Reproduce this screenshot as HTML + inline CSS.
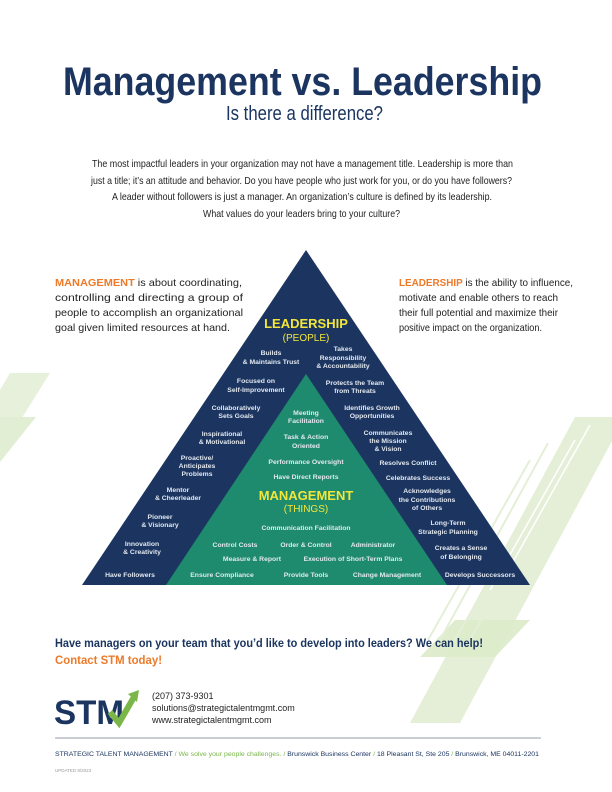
<!DOCTYPE html>
<html><head><meta charset="utf-8"><style>
html,body{margin:0;padding:0;background:#fff}
svg{display:block}
.t{font-family:"Liberation Sans",sans-serif}
.l{font-family:"Liberation Sans",sans-serif;font-weight:bold;font-size:6.8px;fill:#e3e8ef;text-anchor:middle}
</style></head><body>
<svg width="612" height="792" viewBox="0 0 612 792" xmlns="http://www.w3.org/2000/svg">
<!-- decorative stripes -->
<g>
<polygon points="10,373 50,373 8,440 0,440 0,390" fill="#e6f0da"/>
<polygon points="0,417 36,417 0,462" fill="#e1eed3"/>
<polygon points="575,417 625,417 460,723 410,723" fill="#e5efd8"/>
<polygon points="455,620 530,620 495,657 420,657" fill="#dcebc9" opacity="0.9"/>
<g stroke="#e5efd8" stroke-width="2">
<line x1="592" y1="422" x2="470" y2="640"/>
<line x1="572" y1="435" x2="455" y2="640"/>
<line x1="548" y1="443" x2="440" y2="640"/>
<line x1="530" y1="460" x2="428" y2="640"/>
</g>
<g stroke="#ffffff" stroke-width="1.5">
<line x1="590" y1="425" x2="500" y2="585"/>
<line x1="575" y1="440" x2="490" y2="590"/>
</g>
</g>
<text class="t" x="63" y="95" textLength="479" lengthAdjust="spacingAndGlyphs" font-size="40" font-weight="bold" fill="#1b3560">Management vs. Leadership</text>
<text class="t" x="226" y="120" textLength="157" lengthAdjust="spacingAndGlyphs" font-size="20" fill="#1b3560">Is there a difference?</text>
<g class="t" font-size="10.3" fill="#222">
<text x="92" y="167" textLength="421" lengthAdjust="spacingAndGlyphs">The most impactful leaders in your organization may not have a management title. Leadership is more than</text>
<text x="91" y="184" textLength="421" lengthAdjust="spacingAndGlyphs">just a title; it’s an attitude and behavior. Do you have people who just work for you, or do you have followers?</text>
<text x="112" y="200" textLength="380" lengthAdjust="spacingAndGlyphs">A leader without followers is just a manager. An organization’s culture is defined by its leadership.</text>
<text x="203" y="217" textLength="197" lengthAdjust="spacingAndGlyphs">What values do your leaders bring to your culture?</text>
</g>
<g class="t" font-size="10.3" fill="#222">
<text x="55" y="286" textLength="187" lengthAdjust="spacingAndGlyphs"><tspan fill="#ec7a2a" font-weight="bold">MANAGEMENT</tspan> is about coordinating,</text>
<text x="55" y="301" textLength="188" lengthAdjust="spacingAndGlyphs">controlling and directing a group of</text>
<text x="55" y="316" textLength="188" lengthAdjust="spacingAndGlyphs">people to accomplish an organizational</text>
<text x="55" y="331" textLength="175" lengthAdjust="spacingAndGlyphs">goal given limited resources at hand.</text>
<text x="399" y="286" textLength="174" lengthAdjust="spacingAndGlyphs"><tspan fill="#ec7a2a" font-weight="bold">LEADERSHIP</tspan> is the ability to influence,</text>
<text x="399" y="301" textLength="159" lengthAdjust="spacingAndGlyphs">motivate and enable others to reach</text>
<text x="399" y="316" textLength="159" lengthAdjust="spacingAndGlyphs">their full potential and maximize their</text>
<text x="399" y="331" textLength="143" lengthAdjust="spacingAndGlyphs">positive impact on the organization.</text>
</g>
<polygon points="306,250 530,585 82,585" fill="#1b3560"/>
<polygon points="306,374 447,585 166,585" fill="#1e8a6e"/>
<text class="t" x="306" y="328" text-anchor="middle" font-size="13" font-weight="bold" fill="#f2e63a">LEADERSHIP</text>
<text class="t" x="306" y="341" text-anchor="middle" font-size="10" fill="#f2e63a">(PEOPLE)</text>
<text class="t" x="306" y="500" text-anchor="middle" font-size="13" font-weight="bold" fill="#f2e63a">MANAGEMENT</text>
<text class="t" x="306" y="512" text-anchor="middle" font-size="10" fill="#f2e63a">(THINGS)</text>
<g class="l">
<text x="271" y="355">Builds</text><text x="271" y="364">&amp; Maintains Trust</text>
<text x="343" y="351">Takes</text><text x="343" y="360">Responsibility</text><text x="343" y="368">&amp; Accountability</text>
<text x="256" y="383">Focused on</text><text x="256" y="392">Self-Improvement</text>
<text x="355" y="385">Protects the Team</text><text x="355" y="393">from Threats</text>
<text x="236" y="410">Collaboratively</text><text x="236" y="418">Sets Goals</text>
<text x="372" y="410">Identifies Growth</text><text x="372" y="418">Opportunities</text>
<text x="306" y="415">Meeting</text><text x="306" y="423">Facilitation</text>
<text x="306" y="439">Task &amp; Action</text><text x="306" y="448">Oriented</text>
<text x="222" y="436">Inspirational</text><text x="222" y="444">&amp; Motivational</text>
<text x="388" y="435">Communicates</text><text x="388" y="443">the Mission</text><text x="388" y="451">&amp; Vision</text>
<text x="197" y="460">Proactive/</text><text x="197" y="468">Anticipates</text><text x="197" y="476">Problems</text>
<text x="306" y="464">Performance Oversight</text>
<text x="408" y="465">Resolves Conflict</text>
<text x="306" y="479">Have Direct Reports</text>
<text x="178" y="492">Mentor</text><text x="178" y="500">&amp; Cheerleader</text>
<text x="418" y="480">Celebrates Success</text>
<text x="427" y="493">Acknowledges</text><text x="427" y="502">the Contributions</text><text x="427" y="510">of Others</text>
<text x="160" y="519">Pioneer</text><text x="160" y="527">&amp; Visionary</text>
<text x="448" y="525">Long-Term</text><text x="448" y="534">Strategic Planning</text>
<text x="306" y="530">Communication Facilitation</text>
<text x="142" y="546">Innovation</text><text x="142" y="554">&amp; Creativity</text>
<text x="235" y="547">Control Costs</text><text x="306" y="547">Order &amp; Control</text><text x="373" y="547">Administrator</text>
<text x="461" y="550">Creates a Sense</text><text x="461" y="559">of Belonging</text>
<text x="252" y="561">Measure &amp; Report</text><text x="353" y="561">Execution of Short-Term Plans</text>
<text x="130" y="577">Have Followers</text><text x="222" y="577">Ensure Compliance</text><text x="306" y="577">Provide Tools</text><text x="387" y="577">Change Management</text><text x="480" y="577">Develops Successors</text>
</g>
<text class="t" x="55" y="647" textLength="428" lengthAdjust="spacingAndGlyphs" font-size="12" font-weight="bold" fill="#1b3560">Have managers on your team that you’d like to develop into leaders? We can help!</text>
<text class="t" x="55" y="664" textLength="107" lengthAdjust="spacingAndGlyphs" font-size="12" font-weight="bold" fill="#ec7a2a">Contact STM today!</text>
<!-- logo -->
<text class="t" x="54" y="724" textLength="70" lengthAdjust="spacingAndGlyphs" font-size="34" font-weight="bold" fill="#1b3560">STM</text>
<polyline points="110,712 119,723 134,697" fill="none" stroke="#7ab648" stroke-width="6"/>
<polygon points="128,694 139,690 137,702" fill="#7ab648"/>
<g class="t" font-size="9" fill="#222">
<text x="152" y="699">(207) 373-9301</text>
<text x="152" y="711">solutions@strategictalentmgmt.com</text>
<text x="152" y="723">www.strategictalentmgmt.com</text>
</g>
<line x1="55" y1="738" x2="541" y2="738" stroke="#b8bec6" stroke-width="1.5"/>
<text class="t" x="55" y="756" textLength="484" lengthAdjust="spacingAndGlyphs" font-size="6.2" fill="#1b3560">STRATEGIC TALENT MANAGEMENT <tspan fill="#7ab648">/ We solve your people challenges. /</tspan> Brunswick Business Center <tspan fill="#7ab648">/</tspan> 18 Pleasant St, Ste 205 <tspan fill="#7ab648">/</tspan> Brunswick, ME 04011-2201</text>
<text class="t" x="55" y="772" font-size="4.5" fill="#999">UPDATED 8/2023</text>
</svg>
</body></html>
